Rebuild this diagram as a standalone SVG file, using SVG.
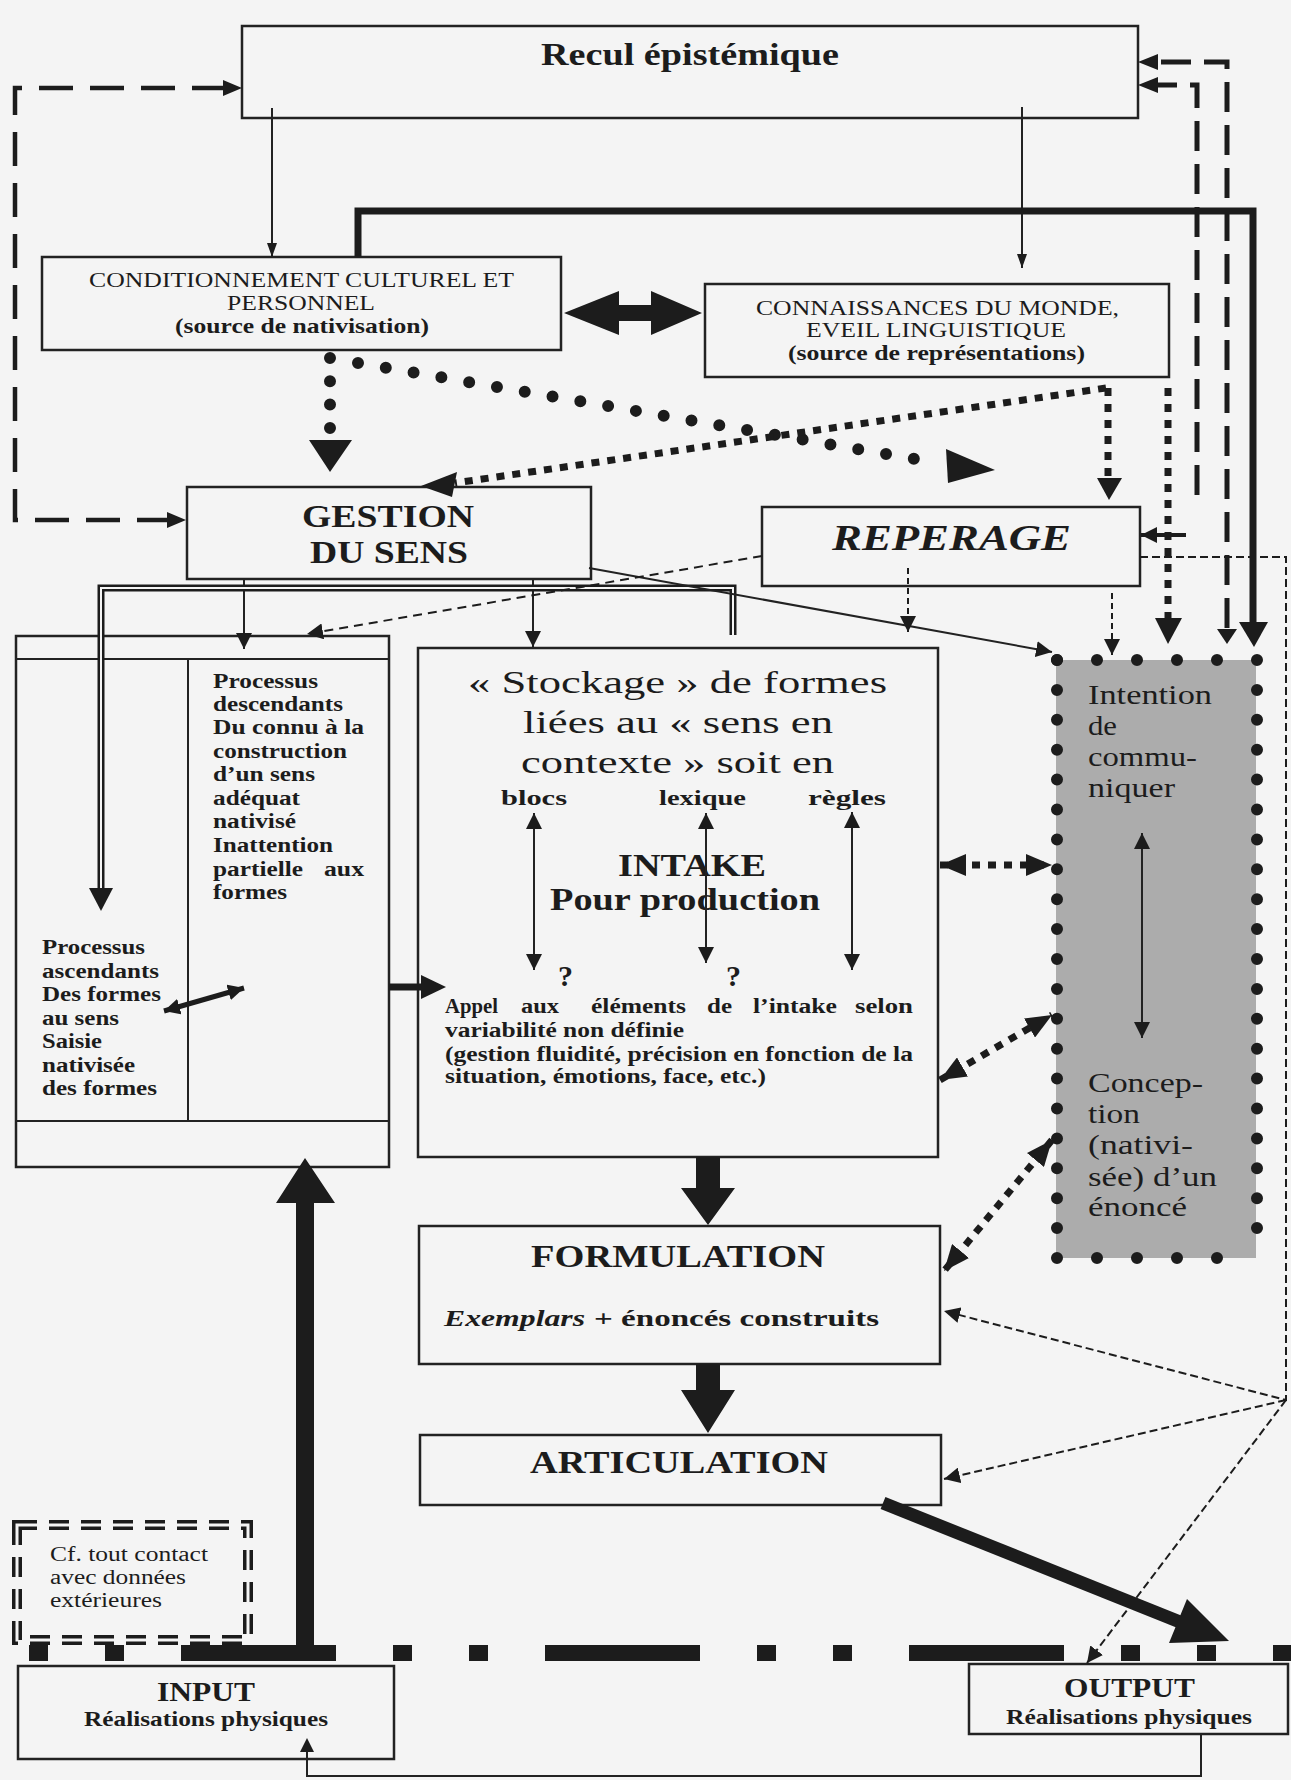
<svg xmlns="http://www.w3.org/2000/svg" width="1291" height="1780" viewBox="0 0 1291 1780">
<style>
.box{fill:none;stroke:#222;stroke-width:2.5}
.ln{fill:none;stroke:#222;stroke-width:2}
.t{font-family:"Liberation Serif","Times New Roman",serif;fill:#1c1c1c}
.b{font-weight:bold}
.i{font-style:italic}
.sqd{fill:none;stroke:#1c1c1c;stroke-width:7;stroke-dasharray:8 8}
.rnd{fill:none;stroke:#1c1c1c;stroke-width:12;stroke-linecap:round}
.fill{fill:#1c1c1c}
</style>
<defs>
<marker id="a1" viewBox="0 0 14 10" refX="14" refY="5" markerWidth="14" markerHeight="10" markerUnits="userSpaceOnUse" orient="auto-start-reverse"><path d="M0,0 L14,5 L0,10 z" fill="#1c1c1c"/></marker>
<marker id="a2" viewBox="0 0 16 16" refX="16" refY="8" markerWidth="16" markerHeight="16" markerUnits="userSpaceOnUse" orient="auto-start-reverse"><path d="M0,0 L16,8 L0,16 z" fill="#1c1c1c"/></marker>
<marker id="a3" viewBox="0 0 26 22" refX="26" refY="11" markerWidth="26" markerHeight="22" markerUnits="userSpaceOnUse" orient="auto-start-reverse"><path d="M0,0 L26,11 L0,22 z" fill="#1c1c1c"/></marker>
</defs>
<rect x="0" y="0" width="1291" height="1780" fill="#f4f4f4"/>

<g id="recul">
<rect class="box" x="242" y="26" width="896" height="92"/>
<text class="t b" x="541" y="65" font-size="31" textLength="298" lengthAdjust="spacingAndGlyphs">Recul épistémique</text>
</g>

<g id="conditionnement">
<rect class="box" x="42" y="257" width="519" height="93"/>
<text class="t" x="89" y="287" font-size="22" textLength="425" lengthAdjust="spacingAndGlyphs">CONDITIONNEMENT CULTUREL ET</text>
<text class="t" x="227" y="310" font-size="22" textLength="148" lengthAdjust="spacingAndGlyphs">PERSONNEL</text>
<text class="t b" x="175" y="333" font-size="21" textLength="254" lengthAdjust="spacingAndGlyphs">(source de nativisation)</text>
</g>

<g id="connaissances">
<rect class="box" x="705" y="284" width="464" height="93"/>
<text class="t" x="756" y="315" font-size="22" textLength="363" lengthAdjust="spacingAndGlyphs">CONNAISSANCES DU MONDE,</text>
<text class="t" x="806" y="337" font-size="22" textLength="260" lengthAdjust="spacingAndGlyphs">EVEIL LINGUISTIQUE</text>
<text class="t b" x="788" y="360" font-size="21" textLength="297" lengthAdjust="spacingAndGlyphs">(source de représentations)</text>
</g>

<g id="gestion">
<rect class="box" x="187" y="487" width="404" height="92"/>
<text class="t b" x="302" y="527" font-size="31" textLength="172" lengthAdjust="spacingAndGlyphs">GESTION</text>
<text class="t b" x="310" y="563" font-size="31" textLength="158" lengthAdjust="spacingAndGlyphs">DU SENS</text>
</g>

<g id="reperage">
<rect class="box" x="762" y="507" width="378" height="79"/>
<text class="t b i" x="832" y="550" font-size="35" textLength="239" lengthAdjust="spacingAndGlyphs">REPERAGE</text>
</g>

<g id="processus">
<rect class="box" x="16" y="636" width="373" height="531"/>
<line class="ln" x1="16" y1="659" x2="389" y2="659"/>
<line class="ln" x1="16" y1="1121" x2="389" y2="1121"/>
<line class="ln" x1="188" y1="659" x2="188" y2="1121"/>
<g class="t b" font-size="20">
<text x="213" y="688" textLength="105" lengthAdjust="spacingAndGlyphs">Processus</text>
<text x="213" y="711" textLength="130" lengthAdjust="spacingAndGlyphs">descendants</text>
<text x="213" y="734" textLength="151" lengthAdjust="spacingAndGlyphs">Du connu à la</text>
<text x="213" y="758" textLength="134" lengthAdjust="spacingAndGlyphs">construction</text>
<text x="213" y="781" textLength="102" lengthAdjust="spacingAndGlyphs">d’un sens</text>
<text x="213" y="805" textLength="87" lengthAdjust="spacingAndGlyphs">adéquat</text>
<text x="213" y="828" textLength="83" lengthAdjust="spacingAndGlyphs">nativisé</text>
<text x="213" y="852" textLength="120" lengthAdjust="spacingAndGlyphs">Inattention</text>
<text x="213" y="876" textLength="90" lengthAdjust="spacingAndGlyphs">partielle</text>
<text x="324" y="876" textLength="40" lengthAdjust="spacingAndGlyphs">aux</text>
<text x="213" y="899" textLength="74" lengthAdjust="spacingAndGlyphs">formes</text>
<text x="42" y="954" textLength="103" lengthAdjust="spacingAndGlyphs">Processus</text>
<text x="42" y="978" textLength="117" lengthAdjust="spacingAndGlyphs">ascendants</text>
<text x="42" y="1001" textLength="119" lengthAdjust="spacingAndGlyphs">Des formes</text>
<text x="42" y="1025" textLength="77" lengthAdjust="spacingAndGlyphs">au sens</text>
<text x="42" y="1048" textLength="60" lengthAdjust="spacingAndGlyphs">Saisie</text>
<text x="42" y="1072" textLength="93" lengthAdjust="spacingAndGlyphs">nativisée</text>
<text x="42" y="1095" textLength="115" lengthAdjust="spacingAndGlyphs">des formes</text>
</g>
<line x1="164" y1="1011" x2="244" y2="988" stroke="#1c1c1c" stroke-width="5" marker-start="url(#a2)" marker-end="url(#a2)"/>
</g>

<g id="stockage">
<rect class="box" x="418" y="648" width="520" height="509"/>
<text class="t" x="468" y="693" font-size="32" textLength="419" lengthAdjust="spacingAndGlyphs">« Stockage » de formes</text>
<text class="t" x="523" y="733" font-size="32" textLength="310" lengthAdjust="spacingAndGlyphs">liées au « sens en</text>
<text class="t" x="521" y="773" font-size="32" textLength="313" lengthAdjust="spacingAndGlyphs">contexte » soit en</text>
<text class="t b" x="501" y="805" font-size="21" textLength="66" lengthAdjust="spacingAndGlyphs">blocs</text>
<text class="t b" x="659" y="805" font-size="21" textLength="87" lengthAdjust="spacingAndGlyphs">lexique</text>
<text class="t b" x="808" y="805" font-size="21" textLength="78" lengthAdjust="spacingAndGlyphs">règles</text>
<text class="t b" x="618" y="876" font-size="31" textLength="148" lengthAdjust="spacingAndGlyphs">INTAKE</text>
<text class="t b" x="550" y="910" font-size="31" textLength="270" lengthAdjust="spacingAndGlyphs">Pour production</text>
<text class="t b" x="558" y="986" font-size="30">?</text>
<text class="t b" x="726" y="986" font-size="30">?</text>
<g class="t b" font-size="20">
<text x="445" y="1013" textLength="53" lengthAdjust="spacingAndGlyphs">Appel</text>
<text x="521" y="1013" textLength="38" lengthAdjust="spacingAndGlyphs">aux</text>
<text x="591" y="1013" textLength="95" lengthAdjust="spacingAndGlyphs">éléments</text>
<text x="707" y="1013" textLength="25" lengthAdjust="spacingAndGlyphs">de</text>
<text x="753" y="1013" textLength="84" lengthAdjust="spacingAndGlyphs">l’intake</text>
<text x="855" y="1013" textLength="58" lengthAdjust="spacingAndGlyphs">selon</text>
<text x="445" y="1037" textLength="239" lengthAdjust="spacingAndGlyphs">variabilité non définie</text>
<text x="445" y="1061" textLength="468" lengthAdjust="spacingAndGlyphs">(gestion fluidité, précision en fonction de la</text>
<text x="445" y="1083" textLength="321" lengthAdjust="spacingAndGlyphs">situation, émotions, face, etc.)</text>
</g>
<line class="ln" x1="534" y1="813" x2="534" y2="970" marker-start="url(#a2)" marker-end="url(#a2)"/>
<line class="ln" x1="706" y1="813" x2="706" y2="963" marker-start="url(#a2)" marker-end="url(#a2)"/>
<line class="ln" x1="852" y1="812" x2="852" y2="970" marker-start="url(#a2)" marker-end="url(#a2)"/>
</g>

<g id="intention">
<rect x="1056" y="660" width="200" height="598" fill="#acacac"/>
<path class="rnd" d="M1057,660 H1257" stroke-dasharray="0 40"/>
<path class="rnd" d="M1057,1258 H1257" stroke-dasharray="0 40"/>
<path class="rnd" d="M1057,660 V1258" stroke-dasharray="0 29.9"/>
<path class="rnd" d="M1257,660 V1258" stroke-dasharray="0 29.9"/>
<g class="t" font-size="28">
<text x="1088" y="704" textLength="124" lengthAdjust="spacingAndGlyphs">Intention</text>
<text x="1088" y="735" textLength="29" lengthAdjust="spacingAndGlyphs">de</text>
<text x="1088" y="766" textLength="109" lengthAdjust="spacingAndGlyphs">commu-</text>
<text x="1088" y="797" textLength="87" lengthAdjust="spacingAndGlyphs">niquer</text>
<text x="1088" y="1092" textLength="115" lengthAdjust="spacingAndGlyphs">Concep-</text>
<text x="1088" y="1123" textLength="52" lengthAdjust="spacingAndGlyphs">tion</text>
<text x="1088" y="1154" textLength="105" lengthAdjust="spacingAndGlyphs">(nativi-</text>
<text x="1088" y="1186" textLength="129" lengthAdjust="spacingAndGlyphs">sée) d’un</text>
<text x="1088" y="1216" textLength="99" lengthAdjust="spacingAndGlyphs">énoncé</text>
</g>
<line class="ln" x1="1142" y1="833" x2="1142" y2="1038" marker-start="url(#a2)" marker-end="url(#a2)"/>
</g>

<g id="formulation">
<rect class="box" x="419" y="1226" width="521" height="138"/>
<text class="t b" x="531" y="1267" font-size="31" textLength="294" lengthAdjust="spacingAndGlyphs">FORMULATION</text>
<text class="t b i" x="444" y="1326" font-size="23" textLength="141" lengthAdjust="spacingAndGlyphs">Exemplars</text>
<text class="t b" x="594" y="1326" font-size="23" textLength="285" lengthAdjust="spacingAndGlyphs">+ énoncés construits</text>
</g>

<g id="articulation">
<rect class="box" x="420" y="1435" width="521" height="70"/>
<text class="t b" x="530" y="1473" font-size="31" textLength="298" lengthAdjust="spacingAndGlyphs">ARTICULATION</text>
</g>

<g id="contact">
<rect x="17" y="1525" width="231" height="115" fill="none" stroke="#1c1c1c" stroke-width="10" stroke-dasharray="20 12"/>
<rect x="17" y="1525" width="231" height="115" fill="none" stroke="#f4f4f4" stroke-width="3" stroke-dasharray="20 12"/>
<text class="t" x="50" y="1561" font-size="20" textLength="158" lengthAdjust="spacingAndGlyphs">Cf. tout contact</text>
<text class="t" x="50" y="1584" font-size="20" textLength="136" lengthAdjust="spacingAndGlyphs">avec données</text>
<text class="t" x="50" y="1607" font-size="20" textLength="112" lengthAdjust="spacingAndGlyphs">extérieures</text>
</g>

<g id="input">
<rect class="box" x="18" y="1666" width="376" height="93"/>
<text class="t b" x="157" y="1701" font-size="27" textLength="98" lengthAdjust="spacingAndGlyphs">INPUT</text>
<text class="t b" x="84" y="1726" font-size="21" textLength="244" lengthAdjust="spacingAndGlyphs">Réalisations physiques</text>
</g>

<g id="output">
<rect class="box" x="969" y="1664" width="319" height="70"/>
<text class="t b" x="1064" y="1697" font-size="27" textLength="131" lengthAdjust="spacingAndGlyphs">OUTPUT</text>
<text class="t b" x="1006" y="1724" font-size="21" textLength="246" lengthAdjust="spacingAndGlyphs">Réalisations physiques</text>
</g>

<g id="connectors">
<line class="ln" x1="272" y1="108" x2="272" y2="257" marker-end="url(#a1)"/>
<line class="ln" x1="1022" y1="107" x2="1022" y2="268" marker-end="url(#a1)"/>
<polyline points="358,257 358,211 1253,211 1253,624" fill="none" stroke="#1c1c1c" stroke-width="7"/>
<polygon class="fill" points="1239,622 1268,622 1254,647"/>
<polygon class="fill" points="564,313 619,291 619,305 651,305 651,291 702,313 651,335 651,321 619,321 619,335"/>
<path d="M226,88 H15 V520 H170" fill="none" stroke="#1c1c1c" stroke-width="4.5" stroke-dasharray="34 17"/>
<polygon class="fill" points="242,88 223,80 223,96"/>
<polygon class="fill" points="186,520 167,512 167,528"/>
<path class="rnd" d="M330,358 V428" stroke-dasharray="0 23.3"/>
<polygon class="fill" points="309,440 352,440 330,472"/>
<path class="rnd" d="M358,363 L921,460" stroke-dasharray="0 28.2"/>
<polygon class="fill" points="946,449 995,470 948,483"/>
<path class="sqd" d="M1106,388 L455,483"/>
<polygon class="fill" points="421,486 457,472 452,497"/>
<path class="sqd" d="M1108,388 V478"/>
<polygon class="fill" points="1097,478 1122,478 1109,500"/>
<path class="sqd" d="M1168,388 V618"/>
<polygon class="fill" points="1155,618 1182,618 1168,644"/>
<path d="M1227,628 V62 H1156" fill="none" stroke="#1c1c1c" stroke-width="5" stroke-dasharray="30 13"/>
<polygon class="fill" points="1138,62 1158,54 1158,70"/>
<polygon class="fill" points="1217,629 1237,629 1227,644"/>
<path d="M1197,495 V85 H1156" fill="none" stroke="#1c1c1c" stroke-width="5" stroke-dasharray="30 13"/>
<polygon class="fill" points="1138,85 1158,77 1158,93"/>
<line x1="1186" y1="535" x2="1141" y2="535" stroke="#1c1c1c" stroke-width="4" marker-end="url(#a2)"/>
<path d="M1140,557 H1286 V1400 L944,1311" fill="none" stroke="#1c1c1c" stroke-width="2" stroke-dasharray="8 4" marker-end="url(#a2)"/>
<path d="M1286,1400 L944,1479" fill="none" stroke="#1c1c1c" stroke-width="2" stroke-dasharray="8 4" marker-end="url(#a2)"/>
<path d="M1286,1400 L1087,1663" fill="none" stroke="#1c1c1c" stroke-width="2" stroke-dasharray="8 4" marker-end="url(#a2)"/>
<line class="ln" x1="244" y1="579" x2="244" y2="649" marker-end="url(#a2)"/>
<line class="ln" x1="533" y1="579" x2="533" y2="647" marker-end="url(#a2)"/>
<path d="M733,635 V588 H101 V890" fill="none" stroke="#1c1c1c" stroke-width="7"/>
<path d="M733,635 V588 H101 V890" fill="none" stroke="#f4f4f4" stroke-width="2"/>
<polygon class="fill" points="89,888 113,888 101,911"/>
<line class="ln" x1="589" y1="568" x2="1052" y2="652" marker-end="url(#a2)"/>
<line x1="762" y1="556" x2="307" y2="634" stroke="#1c1c1c" stroke-width="2" stroke-dasharray="9 6" marker-end="url(#a2)"/>
<line x1="908" y1="568" x2="908" y2="632" stroke="#1c1c1c" stroke-width="2" stroke-dasharray="6 4" marker-end="url(#a2)"/>
<line x1="1112" y1="593" x2="1112" y2="655" stroke="#1c1c1c" stroke-width="2" stroke-dasharray="6 4" marker-end="url(#a2)"/>
<line x1="389" y1="987" x2="425" y2="987" stroke="#1c1c1c" stroke-width="7"/>
<polygon class="fill" points="421,975 446,987 421,999"/>
<line class="sqd" x1="940" y1="865" x2="1052" y2="865" stroke-width="6" marker-start="url(#a3)" marker-end="url(#a3)"/>
<line class="sqd" x1="940" y1="1080" x2="1052" y2="1015" stroke-width="6" marker-start="url(#a3)" marker-end="url(#a3)"/>
<line class="sqd" x1="1052" y1="1140" x2="944" y2="1271" stroke-width="6" marker-start="url(#a3)" marker-end="url(#a3)"/>
<polygon class="fill" points="696,1157 720,1157 720,1188 735,1188 708,1225 681,1188 696,1188"/>
<polygon class="fill" points="696,1364 720,1364 720,1390 735,1390 708,1433 681,1390 696,1390"/>
<line x1="883" y1="1503" x2="1180" y2="1622" stroke="#1c1c1c" stroke-width="13"/>
<polygon class="fill" points="1229,1641 1169,1643 1187,1599"/>
<line x1="29" y1="1653" x2="1291" y2="1653" stroke="#1c1c1c" stroke-width="16" stroke-dasharray="19 57 19 57 155 57"/>
<polygon class="fill" points="296,1661 314,1661 314,1203 335,1203 305,1158 276,1203 296,1203"/>
<path class="ln" d="M1201,1734 V1776 H307 V1752"/>
<polygon class="fill" points="300,1752 314,1752 307,1738"/>
</g>
</svg>
